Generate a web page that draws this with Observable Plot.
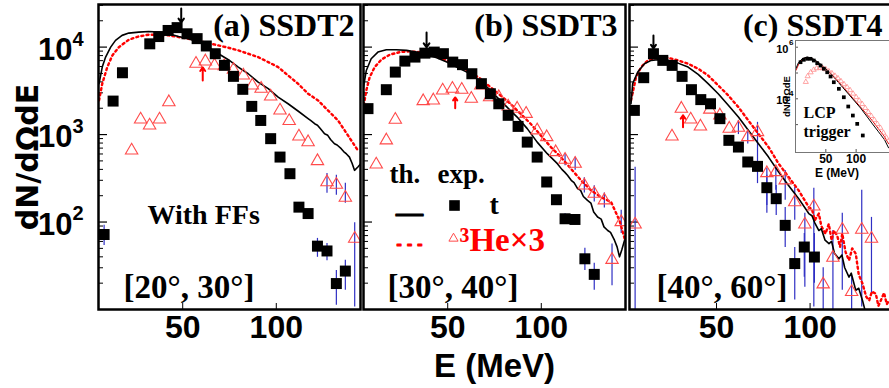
<!DOCTYPE html>
<html><head><meta charset="utf-8">
<script src="https://cdn.jsdelivr.net/npm/d3@7"></script>
<script src="https://cdn.jsdelivr.net/npm/@observablehq/plot@0.6"></script>
<style>
html,body{margin:0;padding:0;background:#fff;overflow:hidden;width:889px;height:388px}
#root{position:relative;width:889px;height:388px;overflow:hidden}
svg{overflow:visible}
</style></head><body><div id="root"></div>
<script>
// ---------- labels / ticks ----------
const panelLabels = ["(a) SSDT2", "(b) SSDT3", "(c) SSDT4"];
const angleLabels = ["[20°, 30°]", "[30°, 40°]", "[40°, 60°]"];
const yTitle = "dN/dΩdE";
const xTitle = "E (MeV)";
const xTicks = [50, 100];
const yMajor = [100, 1000, 10000];
const yMinor = [20,30,40,50,60,70,80,90,200,300,400,500,600,700,800,900,2000,3000,4000,5000,6000,7000,8000,9000,20000,30000];
const insetYMajor = [10000, 1000000];
const insetYTicks = [1000, 10000, 100000, 1000000];

// ---------- panel (a) SSDT2 ----------
const tE_a = [8.0,12.8,17.8,32.4,37.2,42.2,47.0,52.3,57.7,62.6,67.4,72.3,77.1,82.1,86.9,91.7,97.0,102.0,107.3,112.1,117.0,122.0,127.1,132.1,136.9];
const tY_a = [72,2415,5090,10900,13200,15500,16700,14200,12500,10300,8400,6190,4630,3290,2100,1450,898,553,357,148,125,53,46.7,19.8,27.5];
const tErrE_a = [8.0,122.0,127.1,132.1,136.9];
const tErrLo_a = [54,39.5,36,11.2,16.6];
const tErrHi_a = [92,65,57,28,36.5];
const hE_a = [22.7,27.5,32.3,37.6,42.6,57.1,62.1,67.0,72.2,77.1,82.4,87.2,91.9,97.0,102.0,106.9,112.1,117.0,122.0,127.1,132.1,136.9,141.9];
const hY_a = [659,1490,1270,1490,2350,6460,6870,6180,6070,5520,4750,3650,3350,2730,1890,1430,953,820,498,286,267,190,64.6];
const hErrE_a = [127.1,132.1,136.9,141.9];
const hErrLo_a = [213,202,164,10.7];
const hErrHi_a = [360,342,277,98];
const thtE_a = [5.3,7.0,8.8,11.5,14.1,17.6,21.2,26.5,31.8,37.2,42.5,47.8,53.1,58.4,63.7,69.1,74.4,79.7,85.0,90.3,95.7,101.0,106.3,111.6,117.0,118.5,120.5,122.0,123.5,125.8,127.5,129.0,131.1,132.5,134.7,136.0,137.5,139.1,140.5,141.8,143.6,145];
const thtY_a = [3820,5910,7700,10000,11930,13620,14460,14840,15110,14840,14220,13250,12470,11400,10000,8400,7180,5910,4960,3980,3350,2680,2250,1860,1520,1440,1330,1280,1170,1020,980,880,787,760,690,640,600,553,470,390,426,460];
const thhE_a = [5.3,7.0,9.7,12.4,15.9,21.2,26.5,31.8,37.2,42.5,47.8,53.1,58.4,63.7,69.1,74.4,79.7,85.0,90.3,95.7,101.0,106.3,111.6,117.0,122.3,127.6,133.0,138.3,143.6];
const thhY_a = [2460,3820,5910,8040,10000,12150,13250,13870,13870,13620,13010,12470,11710,11110,10450,9840,9170,8400,7690,6740,5910,4740,3820,2930,2460,1890,1450,979,659];

// ---------- panel (b) SSDT3 ----------
const tE_b = [7.4,17.2,22.0,27.1,32.5,37.8,42.8,47.7,52.7,57.9,62.9,68.0,72.8,77.3,82.3,87.6,92.5,97.8,102.9,108.1,112.7,118.0,123.3,128.3];
const tY_b = [1980,3260,5180,6920,7690,8530,8770,8410,6740,6300,4960,3820,2930,2250,1660,1240,820,553,287,180,109,107,38,25.2];
const tErrE_b = [102.9,108.1,112.7,118.0,123.3,128.3];
const tErrLo_b = [260,160,95,93,28,16.6];
const tErrHi_b = [315,200,124,122,50,33.7];
const hE_b = [11.8,17.2,22.0,36.9,42.3,47.3,52.5,57.5,62.6,67.7,72.4,77.3,82.3,87.1,91.9,97.8,102.9,107.7,112.7,118.1,123.0,128.3,133.7,137.8,142.7];
const hY_b = [456,859,1480,2415,2460,3200,3350,3260,2570,3650,2680,2680,2100,1980,1730,1120,936,631,516,465,262,211,177,37,100];
const hErrE_b = [112.7,118.1,123.0,128.3,133.7,137.8,142.7];
const hErrLo_b = [440,390,215,170,145,18.7,74];
const hErrHi_b = [600,550,320,260,215,56,136];
const thtE_b = [4.7,6.5,9.1,12.7,17.2,22.6,28.0,33.3,38.7,44.1,49.5,54.8,60.2,65.6,71.0,76.3,81.7,87.1,92.5,97.8,103.2,108.6,111.0,112.5,114.0,116.0,117.5,119.4,121.0,122.5,124.7,126.5,128.0,130.1,132.0,133.5,135.5,137.0,139.1,140.5,141.8,143.0,144.5];
const thtY_b = [3200,5410,7360,8770,9340,9340,9170,8770,8260,7570,6740,5910,5180,4350,3490,2680,2060,1585,1170,820,605,465,400,372,342,300,282,241,230,196,177,165,130,114,108,88,80,76,62,52,40,48,62];
const thhE_b = [4.7,6.5,8.3,11.0,14.5,19.0,24.4,29.8,35.2,40.5,45.9,51.3,56.7,62.0,67.4,72.8,78.2,83.5,88.9,94.3,99.7,105.1,110.4,115.8,121.2,126.6,131.9,137.3,141.8,144.5];
const thhY_b = [1890,3200,4540,5910,7180,8190,8770,8930,8770,8260,7570,6740,5910,5180,4350,3490,2800,2250,1730,1330,980,720,553,408,300,230,193,169,104,65];

// ---------- panel (c) SSDT4 ----------
const tE_c = [6.1,11.1,16.3,21.3,26.3,31.6,36.6,41.6,46.8,51.8,56.6,61.7,66.7,71.9,76.9,81.9,86.7,91.8,96.9,102.3];
const tY_c = [1890,4470,8400,7050,6180,4630,3260,2510,2250,1520,859,720,486,433,247,185,91.6,33.5,51.8,39.8];
const tErrE_c = [71.9,76.9,81.9,86.7,91.8,96.9,102.3];
const tErrLo_c = [380,155,119,51,12.8,23.3,20];
const tErrHi_c = [490,342,262,147,51,74,74];
const hE_c = [6.5,26.2,31.2,36.2,41.4,46.4,51.8,56.8,61.7,66.7,71.9,76.9,81.7,86.7,91.8,97.2,102.0,107.0,112.2,117.2,122.2,127.6,132.8];
const hY_c = [94,953,1980,1490,1240,1930,1660,1170,1200,936,1070,363,373,300,169,94,151,19.4,39.2,81.8,15.9,81.8,64.6];
const hErrE_c = [6.5,61.7,66.7,71.9,76.9,81.7,86.7,91.8,97.2,102.0,107.0,112.2,117.2,122.2,127.6,132.8];
const hErrLo_c = [10,1000,780,275,126,231,177,105,18,10.7,10,10,16.6,10,10.7,15];
const hErrHi_c = [422,1450,1120,1380,411,422,389,250,126,243,30,80,126,24,231,113];
const thtE_c = [4.3,5.2,7.9,11.5,15.1,18.7,24.0,29.4,34.8,40.2,45.5,50.9,56.3,61.7,67.0,72.4,77.8,83.2,88.5,93.9,99.3,101.0,102.5,104.7,106.0,108.0,110.1,111.5,113.0,115.4,117.0,118.5,120.8,122.0,124.4,126.0,128.0,129.8];
const thtY_c = [2250,3820,5180,6460,7050,7180,7050,6560,5910,4870,3820,2930,2160,1585,1120,787,553,373,262,185,125,118,98,80,84,62,56.6,60,44,38,42,30,23.5,26,16.6,17.5,12.7,9];
const thhE_c = [4.3,7.0,9.7,13.3,18.7,24.0,29.4,34.8,40.2,45.5,50.9,56.3,61.7,67.0,72.4,77.8,83.2,88.5,93.9,99.3,101.0,102.5,104.7,106.0,108.2,110.0,111.5,112.7,114.5,116.0,117.2,119.0,120.8,122.5,124.4,126.0,128.0,130.0,131.6,133.0,135.1,136.5,137.8,139.5,141.0,142.5];
const thhY_c = [2460,4540,5910,7050,7570,7570,7050,6460,5660,4740,3650,2800,2060,1450,1020,720,465,327,230,148,140,105,125,90,73.6,95,62,80,70,52,73.6,45,36.5,50,43.5,25,19.8,14,12.7,16,15.2,11,12.7,15.5,11.5,13];

// ---------- arrows (peak markers) ----------
const arrowE_t = [49.2, 38.7, 16.3];
const arrowFrom_t = [27700, 14700, 13600];
const arrowTo_t = [19100, 9930, 9660];
const arrowE_h = [60.7, 54.0, 32.1];
const arrowFrom_h = [4160, 1995, 1210];
const arrowTo_h = [5860, 2660, 1660];

// ---------- inset (LCP trigger) ----------
const iSqE = [8.3,13.7,19.3,24.8,30.2,35.8,41.3,46.7,52.3,57.8,63.2,71.5,79.7,87,94.6,101.8,111];
const iSqY = [262000,325000,355000,355000,305000,240000,195000,146000,107000,73100,44000,24400,11500,5030,2250,1070,379];
const iTriE = [17,20,25,30,35,40,45,50,55,60,65,70,75,80,85,90,95,100,105,110,115,120,125,130,135,140,145,150];
const iTriY = [45000,74700,106000,133000,152000,158000,152000,139000,116000,97300,78000,62500,48000,36700,28200,21600,15800,11600,8530,6250,4390,3080,2160,1520,1060,747,480,308];
const iThtE = [0.8,5,11.6,19.3,28,38,47.9,57.8,67.7,77.6,87.5,97.4,107.3,117.2,127,137,146.9,153.5];
const iThtY = [151000,257000,367000,420000,367000,257000,166000,97300,52300,28200,15200,8170,4390,2160,1060,524,258,126];
const iThhE = [0.8,6.6,13.2,19.8,28,38,47.9,57.8,67.7,77.6,87.5,97.4,107.3,117.2,127,137,146.9,153.5];
const iThhY = [127000,257000,367000,402000,352000,247000,158000,97300,57300,30800,16600,8910,4800,2580,1390,684,337,181];

// ---------- helpers ----------
const SANS = "'Liberation Sans', Arial, Helvetica, sans-serif";
const SERIF = "'Liberation Serif', 'Times New Roman', serif";
const W = 262, H = 305;
const yDomain = [10, 30700];
const rows = (E, V) => E.map((e, i) => ({E: e, v: V[i]}));
const errs = (E, L, U) => E.map((e, i) => ({E: e, lo: L[i], hi: U[i]}));
const RED = "#ff0000", TRI = "#ff4a4a", ERR = "#2f2fc4";

function txt(s, o) {
  return Plot.text([s], {text: d => d, lineAnchor: "bottom", fontWeight: "bold", fontFamily: SERIF, ...o});
}

function panel(o) {
  const marks = [
    Plot.tickY(yMinor, {y: d => d, insetRight: W - 5, stroke: "#000", strokeWidth: 1}),
    Plot.tickY(yMajor, {y: d => d, insetRight: W - 9, stroke: "#000", strokeWidth: 1.2}),
    Plot.tickX(xTicks, {x: d => d, insetTop: H - 6, stroke: "#000", strokeWidth: 1}),
    Plot.axisX(xTicks, {tickSize: 0, tickPadding: 6, fontSize: 32, fontWeight: "bold", fontFamily: SANS, label: null}),
    Plot.ruleX(o.tErr, {x: "E", y1: "lo", y2: "hi", stroke: ERR, strokeWidth: 1.2, clip: true}),
    Plot.ruleX(o.hErr, {x: "E", y1: "lo", y2: "hi", stroke: ERR, strokeWidth: 1.2, clip: true}),
    Plot.line(o.thH, {x: "E", y: "v", stroke: RED, strokeWidth: 2.4, strokeDasharray: "2,3.2", clip: true}),
    Plot.line(o.thT, {x: "E", y: "v", stroke: "#000", strokeWidth: 1.6, clip: true}),
    Plot.dot(o.he, {x: "E", y: "v", symbol: "triangle", r: 4.6, stroke: TRI, strokeWidth: 1.1, fill: "none", clip: true}),
    Plot.dot(o.t, {x: "E", y: "v", symbol: "square", r: 6.2, fill: "#000", clip: true}),
    Plot.arrow([o.arrT], {x1: "E", x2: "E", y1: "from", y2: "to", stroke: "#000", strokeWidth: 2, headLength: 7, headAngle: 70}),
    Plot.arrow([o.arrH], {x1: "E", x2: "E", y1: "from", y2: "to", stroke: RED, strokeWidth: 2, headLength: 7, headAngle: 70}),
    txt(o.label, {frameAnchor: "top-right", textAnchor: "end", dx: o.labelDx, dy: 31, fontSize: 32}),
    txt(o.angle, {frameAnchor: "bottom-left", textAnchor: "start", dx: o.angleDx, dy: -12, fontSize: 33}),
    ...(o.extra || []),
    Plot.frame({stroke: "#000", strokeWidth: 2.5})
  ];
  return Plot.plot({
    width: o.ml + W + o.mr, height: 388,
    marginLeft: o.ml, marginRight: o.mr, marginTop: 4, marginBottom: 79,
    x: {domain: o.xDomain},
    y: o.yAxis ? {type: "log", domain: yDomain} : {type: "log", domain: yDomain, axis: null},
    style: {background: "transparent", overflow: "visible"},
    marks
  });
}

const root = document.getElementById("root");
function place(node, left, top) {
  node.style.position = "absolute"; node.style.left = left + "px"; node.style.top = top + "px";
  root.appendChild(node);
}

// panel a
place(panel({
  ml: 98, mr: 2, xDomain: [5, 145], yAxis: true,
  t: rows(tE_a, tY_a), tErr: errs(tErrE_a, tErrLo_a, tErrHi_a),
  he: rows(hE_a, hY_a), hErr: errs(hErrE_a, hErrLo_a, hErrHi_a),
  thT: rows(thtE_a, thtY_a), thH: rows(thhE_a, thhY_a),
  arrT: {E: arrowE_t[0], from: arrowFrom_t[0], to: arrowTo_t[0]},
  arrH: {E: arrowE_h[0], from: arrowFrom_h[0], to: arrowTo_h[0]},
  label: panelLabels[0], labelDx: -6, angle: angleLabels[0], angleDx: 25,
  extra: [
    Plot.axisY(yMajor, {tickSize: 0, tickPadding: 26, tickFormat: () => "10", fontSize: 31, fontWeight: "bold", fontFamily: SANS, dy: 3, label: null}),
    Plot.text(yMajor, {y: d => d, text: d => String(Math.round(Math.log10(d))), frameAnchor: "left", textAnchor: "start", dx: -26, dy: -8, fontSize: 20, fontWeight: "bold", fontFamily: SANS}),
    Plot.axisY([], {tickSize: 0, label: yTitle, labelAnchor: "center", labelArrow: false, labelOffset: 82, fontSize: 30, fontWeight: "bold", fontFamily: "'DejaVu Sans', sans-serif"}),
    txt("With FFs", {frameAnchor: "top-left", textAnchor: "start", dx: 49, dy: 219, fontSize: 28})
  ]
}), 0, 0);

// panel b
place(panel({
  ml: 1, mr: 2, xDomain: [5, 145],
  t: rows(tE_b, tY_b), tErr: errs(tErrE_b, tErrLo_b, tErrHi_b),
  he: rows(hE_b, hY_b), hErr: errs(hErrE_b, hErrLo_b, hErrHi_b),
  thT: rows(thtE_b, thtY_b), thH: rows(thhE_b, thhY_b),
  arrT: {E: arrowE_t[1], from: arrowFrom_t[1], to: arrowTo_t[1]},
  arrH: {E: arrowE_h[1], from: arrowFrom_h[1], to: arrowTo_h[1]},
  label: panelLabels[1], labelDx: -8, angle: angleLabels[1], angleDx: 24,
  extra: [
    txt("th.", {frameAnchor: "top-left", textAnchor: "start", dx: 26, dy: 178, fontSize: 27}),
    txt("exp.", {frameAnchor: "top-left", textAnchor: "start", dx: 74, dy: 178, fontSize: 27}),
    Plot.text(["—"], {text: d => d, frameAnchor: "top-left", textAnchor: "middle", dx: 46, dy: 197, fontSize: 27, fontWeight: "bold", fontFamily: SERIF, stroke: "#000", strokeWidth: 1.2, fill: "#000"}),
    Plot.dot([0], {frameAnchor: "top-left", dx: 91, dy: 201, symbol: "square", r: 6, fill: "#000"}),
    txt("t", {frameAnchor: "top-left", textAnchor: "start", dx: 126, dy: 209, fontSize: 28}),
    Plot.text(["- - -"], {text: d => d, frameAnchor: "top-left", textAnchor: "middle", dx: 46, dy: 232, fontSize: 17, fontWeight: "bold", fontFamily: SANS, fill: RED, stroke: RED, strokeWidth: 0.8}),
    Plot.dot([0], {frameAnchor: "top-left", dx: 90, dy: 234, symbol: "triangle", r: 3.4, stroke: TRI, strokeWidth: 1, fill: "none"}),
    txt("³He×3", {frameAnchor: "top-left", textAnchor: "start", dx: 96, dy: 246, fontSize: 33, fill: RED}),
    Plot.text([xTitle], {text: d => d, frameAnchor: "bottom", dy: 67, fontSize: 33, fontWeight: "bold", fontFamily: SANS})
  ]
}), 362, 0);

// panel c
place(panel({
  ml: 1, mr: 2, xDomain: [3.5, 143.5],
  t: rows(tE_c, tY_c), tErr: errs(tErrE_c, tErrLo_c, tErrHi_c),
  he: rows(hE_c, hY_c), hErr: errs(hErrE_c, hErrLo_c, hErrHi_c),
  thT: rows(thtE_c, thtY_c), thH: rows(thhE_c, thhY_c),
  arrT: {E: arrowE_t[2], from: arrowFrom_t[2], to: arrowTo_t[2]},
  arrH: {E: arrowE_h[2], from: arrowFrom_h[2], to: arrowTo_h[2]},
  label: panelLabels[2], labelDx: -9, angle: angleLabels[2], angleDx: 27
}), 628, 0);

// inset
const inset = Plot.plot({
  width: 140, height: 165, marginLeft: 40, marginRight: 3, marginTop: 10, marginBottom: 43,
  x: {domain: [0, 160]},
  y: {type: "log", domain: [83, 1.82e6]},
  style: {background: "transparent", overflow: "visible"},
  marks: [
    Plot.frame({fill: "#fff", stroke: "none"}),
    Plot.line(rows(iThhE, iThhY), {x: "E", y: "v", stroke: "#e01010", strokeWidth: 1, clip: true}),
    Plot.line(rows(iThtE, iThtY), {x: "E", y: "v", stroke: "#000", strokeWidth: 1, clip: true}),
    Plot.dot(rows(iTriE, iTriY), {x: "E", y: "v", symbol: "triangle", r: 1.9, stroke: "#ff8c8c", strokeWidth: 0.8, fill: "none", clip: true}),
    Plot.dot(rows(iSqE, iSqY), {x: "E", y: "v", symbol: "square", r: 2.1, fill: "#000", clip: true}),
    Plot.tickY(insetYTicks, {y: d => d, insetRight: 94, stroke: "#555"}),
    Plot.tickX(xTicks, {x: d => d, insetTop: 109, stroke: "#555"}),
    Plot.axisX(xTicks, {tickSize: 0, tickPadding: 2, fontSize: 12, fontWeight: "bold", fontFamily: SANS, label: null}),
    Plot.axisY(insetYMajor, {tickSize: 0, tickPadding: 7, tickFormat: () => "10", fontSize: 11, fontWeight: "bold", fontFamily: SANS, dy: 2, label: null}),
    Plot.text(insetYMajor, {y: d => d, text: d => String(Math.round(Math.log10(d))), frameAnchor: "left", textAnchor: "start", dx: -6.5, dy: -5, fontSize: 8, fontWeight: "bold", fontFamily: SANS}),
    Plot.axisY([], {tickSize: 0, label: yTitle, labelAnchor: "center", labelArrow: false, labelOffset: 12, dy: -22, fontSize: 9.5, fontWeight: "bold", fontFamily: SANS}),
    Plot.text([xTitle], {text: d => d, frameAnchor: "bottom", dx: -7, dy: 24, fontSize: 12, fontWeight: "bold", fontFamily: SANS}),
    txt("LCP", {frameAnchor: "top-left", textAnchor: "start", dx: 8, dy: 77, fontSize: 16}),
    txt("trigger", {frameAnchor: "top-left", textAnchor: "start", dx: 8, dy: 96, fontSize: 16}),
    Plot.frame({stroke: "#777", strokeWidth: 1})
  ]
});
place(inset, 755, 30);
</script>
</body></html>
